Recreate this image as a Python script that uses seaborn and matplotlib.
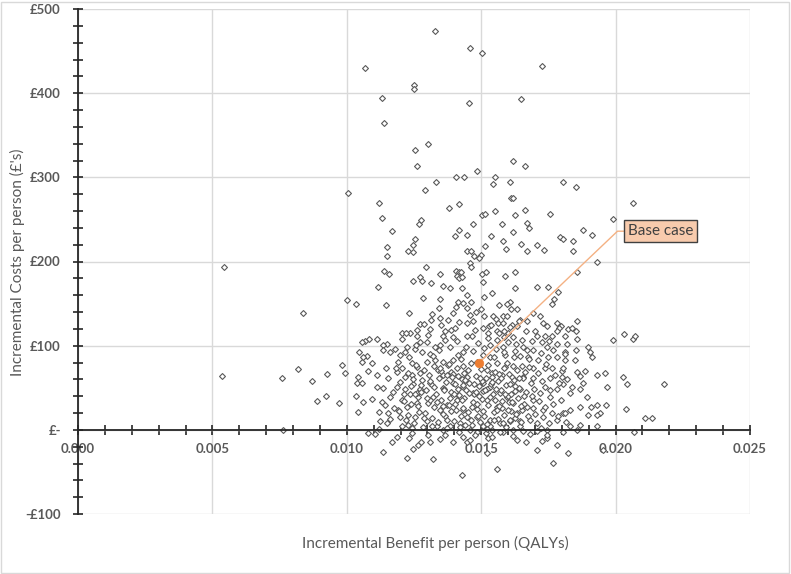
import numpy as np
import pandas as pd
import matplotlib
matplotlib.use("Agg")
import matplotlib.pyplot as plt
import seaborn as sns
from matplotlib.ticker import MultipleLocator
from matplotlib.patches import Rectangle

sns.set_style("white")
plt.rcParams['font.family'] = ['Lato', 'DejaVu Sans']

# ---------------- data: (incremental QALYs, incremental cost £) ----------------
sims_left = [(0.00543, 193), (0.00536, 64), (0.00758, 62), (0.0082, 72), (0.00837, 139),
             (0.0087, 58), (0.00889, 34), (0.00922, 40), (0.00925, 66), (0.00762, 0),
             (0.0097, 32)]

sims_top = [(0.01327, 474), (0.01457, 454), (0.01502, 448), (0.01067, 430), (0.01725, 432),
            (0.01249, 410), (0.01249, 405), (0.0113, 394), (0.01647, 393), (0.01453, 388),
            (0.01138, 364), (0.01301, 340), (0.01253, 332), (0.0126, 313), (0.01617, 319),
            (0.01662, 314), (0.01483, 308), (0.01405, 300), (0.01435, 300), (0.0155, 300),
            (0.01331, 295), (0.01543, 292), (0.01606, 294), (0.01803, 294), (0.01851, 288),
            (0.01004, 281), (0.0129, 285), (0.0161, 276), (0.0162, 276)]

sims_right = [(0.02063, 269), (0.01989, 251), (0.02063, 108), (0.02074, 112),
              (0.02108, 14), (0.02134, 14), (0.02067, -3), (0.0218, 55)]

sims_upper = [(0.01119, 270), (0.01379, 264), (0.01416, 268), (0.0113, 252), (0.01268, 245),
              (0.01275, 249), (0.01167, 236), (0.01253, 227), (0.01245, 220), (0.01149, 217),
              (0.01227, 213), (0.01245, 211), (0.01149, 206), (0.01401, 230), (0.01416, 238),
              (0.01446, 232), (0.01468, 245), (0.01502, 255), (0.01513, 257), (0.0155, 260),
              (0.01625, 255), (0.01662, 261), (0.01755, 257), (0.01576, 245), (0.01669, 246),
              (0.01677, 240), (0.01617, 235), (0.01535, 230), (0.0158, 224), (0.01647, 221),
              (0.01706, 220), (0.01591, 215), (0.01669, 212), (0.01732, 214), (0.01792, 229),
              (0.01803, 227), (0.0184, 224), (0.01877, 237), (0.01914, 232), (0.0184, 213),
              (0.01929, 199), (0.01513, 219), (0.01446, 213), (0.01461, 213), (0.01498, 208),
              (0.01472, 206), (0.01491, 204), (0.01457, 198), (0.01461, 194), (0.01294, 194),
              (0.01138, 189), (0.01156, 185), (0.01271, 181), (0.01346, 185), (0.01405, 189),
              (0.01416, 187), (0.01424, 187), (0.01409, 183), (0.01416, 180), (0.01428, 182),
              (0.01502, 185), (0.01517, 188), (0.01587, 183), (0.01625, 188), (0.01855, 187)]

sims_mid_left = [(0.0100, 154), (0.01033, 149), (0.01115, 170), (0.01145, 148), (0.01245, 177),
                 (0.01279, 177), (0.01312, 175), (0.01283, 157), (0.0123, 139), (0.01357, 171),
                 (0.01383, 169), (0.01428, 168), (0.01446, 160), (0.01461, 152), (0.01346, 155),
                 (0.01342, 145), (0.01405, 146), (0.01413, 152), (0.01394, 139), (0.01316, 138),
                 (0.01375, 131), (0.01346, 133), (0.01312, 131), (0.01271, 126), (0.0126, 119),
                 (0.01234, 115), (0.01204, 115), (0.01219, 115), (0.0126, 111), (0.01309, 120),
                 (0.01357, 112), (0.01387, 119), (0.01401, 121), (0.01394, 110), (0.01364, 107),
                 (0.01346, 101), (0.01327, 99), (0.01297, 104), (0.01271, 104), (0.01253, 96),
                 (0.01223, 99), (0.01216, 93), (0.01197, 89), (0.0119, 81), (0.0116, 93),
                 (0.01149, 102), (0.01134, 101), (0.01112, 108), (0.01082, 108), (0.01067, 105),
                 (0.01056, 104), (0.01045, 92), (0.01056, 81), (0.01074, 88), (0.01093, 80),
                 (0.01134, 95), (0.00981, 77), (0.00993, 68), (0.01041, 63), (0.01078, 70),
                 (0.01112, 65), (0.01145, 74), (0.01186, 69), (0.01204, 74), (0.01242, 80),
                 (0.0126, 75), (0.01297, 81), (0.01309, 90), (0.01327, 83), (0.01357, 81),
                 (0.01375, 77), (0.01394, 83), (0.01413, 89), (0.01431, 92), (0.01442, 99),
                 (0.01465, 111), (0.01476, 119), (0.01468, 129), (0.01446, 127), (0.01457, 137),
                 (0.01446, 145), (0.01431, 151), (0.0148, 140), (0.01431, 76), (0.0145, 71),
                 (0.01483, 81), (0.01338, 71), (0.01357, 65), (0.01387, 69), (0.01413, 64),
                 (0.01271, 68), (0.01242, 65), (0.01216, 63), (0.0106, 86)]

sims_mid_right = [(0.01506, 176), (0.01625, 169), (0.01706, 170), (0.01747, 170), (0.01539, 163),
                  (0.01509, 158), (0.01606, 152), (0.01595, 149), (0.01565, 148), (0.0161, 143),
                  (0.01632, 144), (0.01762, 149), (0.0177, 156), (0.01784, 164), (0.01498, 143),
                  (0.01509, 135), (0.01543, 135), (0.01554, 132), (0.0158, 135), (0.01595, 135),
                  (0.01643, 130), (0.01691, 139), (0.01717, 135), (0.01561, 127), (0.0158, 127),
                  (0.01613, 125), (0.01639, 129), (0.01669, 129), (0.01729, 127), (0.01781, 127),
                  (0.01796, 123), (0.01855, 129), (0.01528, 123), (0.01506, 121), (0.01632, 123),
                  (0.01743, 123), (0.01788, 121), (0.01822, 120), (0.01665, 117), (0.01706, 111),
                  (0.01736, 111), (0.01762, 111), (0.0181, 111), (0.01851, 117), (0.01558, 118),
                  (0.01524, 115), (0.01599, 115), (0.01558, 107), (0.01584, 110), (0.01617, 110),
                  (0.01599, 104), (0.01628, 102), (0.01688, 105), (0.01725, 104), (0.01781, 102),
                  (0.01818, 102), (0.01855, 108), (0.01989, 107), (0.0203, 114), (0.01532, 101),
                  (0.01554, 96), (0.0158, 99), (0.01654, 99), (0.01669, 95), (0.01691, 95),
                  (0.01743, 98), (0.01766, 95), (0.0181, 93), (0.01851, 95), (0.01896, 99),
                  (0.01903, 92), (0.01914, 86), (0.01506, 89), (0.01532, 87), (0.01587, 89),
                  (0.01621, 86), (0.01643, 88), (0.01673, 87), (0.0171, 83), (0.01747, 86),
                  (0.01781, 87), (0.0181, 83), (0.01848, 83), (0.01558, 80), (0.01587, 75),
                  (0.01617, 76), (0.0165, 76), (0.01691, 74), (0.01736, 73), (0.01762, 74),
                  (0.01799, 70), (0.01855, 69), (0.01929, 65), (0.01959, 68), (0.02026, 63),
                  (0.0152, 71), (0.01539, 68), (0.01576, 65), (0.01613, 63), (0.01654, 63),
                  (0.01691, 62), (0.01755, 62), (0.01799, 63)]

sims_low_left = [(0.01037, 56), (0.01056, 56), (0.01033, 40), (0.0106, 33), (0.01041, 21),
                 (0.01093, 37), (0.01112, 51), (0.01134, 50), (0.01078, -4), (0.01104, -5),
                 (0.01134, -26), (0.01167, -15), (0.01223, -33), (0.01245, -23), (0.01264, -18),
                 (0.01275, -15), (0.0132, -35), (0.0123, -10), (0.01309, -14), (0.01364, -6),
                 (0.01394, -15), (0.01431, -8), (0.01446, -14), (0.01428, -54), (0.01119, 1),
                 (0.01123, 10), (0.01149, 8), (0.01197, 15), (0.01242, 2), (0.01253, 15),
                 (0.01297, 10), (0.01335, 4), (0.01357, 0), (0.01383, 4), (0.0142, 8),
                 (0.01457, 0), (0.01483, -2), (0.01119, 21), (0.01152, 20), (0.0119, 24),
                 (0.01223, 27), (0.01204, 36), (0.0116, 39), (0.0113, 33), (0.01186, 51),
                 (0.01234, 42), (0.01271, 48), (0.0126, 32), (0.01301, 32), (0.0132, 39),
                 (0.01346, 24), (0.01372, 30), (0.01409, 36), (0.01431, 24), (0.01465, 27),
                 (0.01483, 15), (0.01468, 44), (0.01431, 51), (0.01394, 56), (0.01357, 50),
                 (0.01309, 56), (0.01245, 54), (0.01216, 48)]

sims_low_right = [(0.01506, 56), (0.01532, 51), (0.01569, 44), (0.0152, 36), (0.01558, 27),
                  (0.01595, 39), (0.01617, 32), (0.01643, 48), (0.01632, 20), (0.01669, 27),
                  (0.01691, 36), (0.01717, 44), (0.01736, 51), (0.01755, 39), (0.01781, 48),
                  (0.01803, 54), (0.01829, 44), (0.01866, 48), (0.01892, 39), (0.01877, 56),
                  (0.01929, 30), (0.01967, 51), (0.01941, 20), (0.01866, 6), (0.01829, 4),
                  (0.01803, 20), (0.01781, 12), (0.01729, 15), (0.01706, 8), (0.0168, 12),
                  (0.01643, 10), (0.01606, 10), (0.01569, 8), (0.01532, 12), (0.01506, 4),
                  (0.01539, 0), (0.0158, -2), (0.01617, 0), (0.01654, -1), (0.01706, -1),
                  (0.01743, 0), (0.01803, -2), (0.01855, 0), (0.01929, 4), (0.01524, -10),
                  (0.01665, -14), (0.01706, -24), (0.01725, -13), (0.01743, -10), (0.01781, -18),
                  (0.01822, -27), (0.01766, -39), (0.01558, -46), (0.01952, -24), (0.0152, -27),
                  (0.02041, 54), (0.02037, 25), (0.01729, 24), (0.01762, 20), (0.0181, 20),
                  (0.01866, 27), (0.01896, 18), (0.01929, 18), (0.01963, 29), (0.01907, 27)]

sims_core_a = [(0.01205, 5), (0.01228, 18), (0.01251, 8), (0.01266, 28), (0.01283, 3),
               (0.01292, 20), (0.01318, 14), (0.01326, 27), (0.01339, 9), (0.01352, 36),
               (0.01366, 17), (0.01371, 2), (0.01389, 22), (0.01398, 11), (0.01404, 31),
               (0.01417, -3), (0.01425, 17), (0.01437, 38), (0.01441, 6), (0.01452, 21),
               (0.01463, 12), (0.01471, 33), (0.01478, -6), (0.01486, 25), (0.01494, 9),
               (0.01503, 37), (0.01511, 16), (0.01518, -4), (0.01527, 29), (0.01534, 5),
               (0.01547, 21), (0.01552, 35), (0.01563, 13), (0.01571, -2), (0.01578, 26),
               (0.01586, 18), (0.01594, 3), (0.01602, 33), (0.01611, 22), (0.01619, -7),
               (0.01626, 14), (0.01637, 38), (0.01645, 4), (0.01652, 23), (0.01661, 31),
               (0.01674, 16), (0.01683, -5), (0.01694, 26), (0.01702, 19), (0.01716, 34),
               (0.01724, 2), (0.01739, 27), (0.01752, 8), (0.01768, 31), (0.01785, 16),
               (0.01797, 36), (0.01815, 9), (0.01832, 23), (0.01176, 26), (0.01161, 13),
               (0.01142, 30), (0.01187, -8), (0.01212, 34), (0.01244, -4), (0.01303, -6),
               (0.01345, -11), (0.01412, 41), (0.0146, -12), (0.01493, 40), (0.01542, -9),
               (0.01598, 40), (0.01633, -12), (0.01689, 40), (0.01744, -6), (0.01265, 39),
               (0.01381, 29), (0.01432, 26), (0.01521, 7), (0.01558, 24), (0.01607, 12),
               (0.01648, 28), (0.01576, 34), (0.01489, 17), (0.01357, 19), (0.01311, 35),
               (0.01229, 6), (0.01195, 22)]

sims_core_b = [(0.01152, 62), (0.01171, 45), (0.01183, 74), (0.01198, 57), (0.01213, 43),
               (0.01229, 68), (0.01238, 52), (0.01256, 77), (0.01263, 44), (0.01279, 59),
               (0.01288, 71), (0.01296, 47), (0.01305, 65), (0.01316, 53), (0.01324, 76),
               (0.01333, 42), (0.01342, 61), (0.01351, 70), (0.01362, 49), (0.01368, 57),
               (0.01379, 78), (0.01386, 45), (0.01396, 66), (0.01403, 54), (0.01411, 73),
               (0.01419, 41), (0.01427, 60), (0.01436, 68), (0.01444, 47), (0.01455, 56),
               (0.01462, 79), (0.01473, 43), (0.01481, 64), (0.01492, 52), (0.01499, 72),
               (0.01508, 46), (0.01516, 61), (0.01527, 77), (0.01536, 55), (0.01544, 42),
               (0.01553, 69), (0.01561, 58), (0.01572, 47), (0.01583, 74), (0.01591, 53),
               (0.01603, 66), (0.01612, 43), (0.01621, 59), (0.01633, 71), (0.01642, 50),
               (0.01656, 62), (0.01668, 45), (0.01679, 75), (0.01687, 56), (0.01698, 48),
               (0.01712, 67), (0.01727, 58), (0.01741, 78), (0.01756, 47), (0.01774, 65),
               (0.01788, 56), (0.01806, 73), (0.01821, 60), (0.01839, 51), (0.01868, 64),
               (0.01887, 70), (0.01275, 45), (0.01347, 74), (0.01398, 42), (0.01449, 63),
               (0.01521, 49), (0.01568, 66), (0.01626, 52), (0.01311, 58), (0.01246, 60),
               (0.01432, 53), (0.01479, 45), (0.01542, 63), (0.01597, 79), (0.01371, 65),
               (0.01664, 69), (0.01503, 58)]

sims_core_c = [(0.01178, 96), (0.01206, 108), (0.01232, 86), (0.01258, 101), (0.01281, 92),
               (0.01303, 113), (0.01322, 88), (0.01344, 95), (0.01366, 117), (0.01383, 98),
               (0.01409, 106), (0.01426, 84), (0.01449, 112), (0.01468, 94), (0.01489, 103),
               (0.01511, 97), (0.01527, 109), (0.01549, 86), (0.01568, 115), (0.01586, 92),
               (0.01608, 122), (0.01627, 94), (0.01652, 107), (0.01676, 84), (0.01702, 118),
               (0.01722, 91), (0.01753, 106), (0.01782, 117), (0.01811, 90), (0.01837, 121),
               (0.01288, 126), (0.01352, 124), (0.01417, 128), (0.01536, 124), (0.01584, 117)]

sims_core_d = [(0.01357, 28), (0.01363, 47), (0.01374, 12), (0.01385, 38), (0.01392, 63),
               (0.01407, 24), (0.01414, 49), (0.0142, 3), (0.01429, 35), (0.01439, 59),
               (0.01448, 15), (0.01456, 44), (0.01465, 6), (0.01474, 54), (0.01483, 31),
               (0.01497, 62), (0.01505, 22), (0.01513, 47), (0.0152, 1), (0.01531, 39),
               (0.01539, 57), (0.01548, 12), (0.01556, 48), (0.01565, 28), (0.01573, 61),
               (0.01581, 8), (0.01589, 42), (0.01599, 24), (0.01608, 55), (0.01616, 33),
               (0.01624, 46), (0.01631, 19), (0.01641, 61), (0.01649, 9), (0.01658, 40),
               (0.01335, 33), (0.01326, 51), (0.01318, 4), (0.01299, 38), (0.01287, 14),
               (0.01277, 53), (0.01268, 21), (0.01254, 43), (0.0124, 31), (0.01221, 12)]

base_case = (0.0149, 79)
base_label = "Base case"
callout_elbow = (0.02007, 236)
callout_box = (0.0203, 236)

x_ticks = [0.000, 0.005, 0.010, 0.015, 0.020, 0.025]
x_tick_labels = ["0.000", "0.005", "0.010", "0.015", "0.020", "0.025"]
y_ticks = [-100, 0, 100, 200, 300, 400, 500]
y_tick_labels = ["-£100", "£-", "£100", "£200", "£300", "£400", "£500"]

x_title = "Incremental Benefit per person (QALYs)"
y_title = "Incremental Costs per person (£'s)"

# ---------------- build table ----------------
groups = [sims_left, sims_top, sims_right, sims_upper, sims_mid_left, sims_mid_right,
          sims_low_left, sims_low_right, sims_core_a, sims_core_b, sims_core_c, sims_core_d]
df = pd.concat([pd.DataFrame(g, columns=["qaly", "cost"]) for g in groups], ignore_index=True)
df_base = pd.DataFrame([base_case], columns=["qaly", "cost"])

# ---------------- figure ----------------
W, H = 791, 574
fig = plt.figure(figsize=(W / 100, H / 100), dpi=100)
ax = fig.add_axes([78 / W, (H - 514) / H, (750 - 78) / W, (514 - 9) / H])

text_col = "#595959"
axis_col = "#262626"

sns.scatterplot(data=df, x="qaly", y="cost", ax=ax, marker="D", s=9,
                facecolor="white", edgecolor="#5a5a5a", linewidth=0.8, zorder=3, legend=False)
sns.scatterplot(data=df_base, x="qaly", y="cost", ax=ax, marker="o", s=38,
                color="#ED7D31", edgecolor="#ED7D31", linewidth=0.5, zorder=5, legend=False)

ax.set_xlim(0, 0.025)
ax.set_ylim(-100, 500)

ax.set_xticks(x_ticks)
ax.set_xticklabels(x_tick_labels, ha="left")
ax.set_yticks(y_ticks)
ax.set_yticklabels(y_tick_labels)
ax.xaxis.set_minor_locator(MultipleLocator(0.001))
ax.yaxis.set_minor_locator(MultipleLocator(20))

ax.grid(True, which="major", color="#d9d9d9", linewidth=1.0)
ax.set_axisbelow(True)

for s in ["top", "right"]:
    ax.spines[s].set_visible(False)
ax.spines["bottom"].set_position(("data", 0))
for s in ["left", "bottom"]:
    ax.spines[s].set_color(axis_col)
    ax.spines[s].set_linewidth(1.3)
    ax.spines[s].set_zorder(4)

ax.tick_params(which="both", bottom=True, left=True, top=False, right=False,
               direction="inout", length=6.5, width=1.2, color=axis_col)
ax.tick_params(axis="x", which="major", pad=6, labelsize=9.5, labelcolor=text_col)
ax.tick_params(axis="y", which="major", pad=9, labelsize=9.5, labelcolor=text_col)
for lab in ax.get_xticklabels() + ax.get_yticklabels():
    lab.set_fontweight("bold")

ax.set_xlabel("")
ax.set_ylabel("")
fig.text(435 / W, 1 - 543 / H, x_title, ha="center", va="center", fontsize=11, color=text_col)
fig.text(17 / W, 1 - 262 / H, y_title, ha="center", va="center", rotation=90,
         fontsize=11, color=text_col)

# callout
ax.plot([base_case[0], callout_elbow[0], callout_box[0]],
        [base_case[1], callout_elbow[1], callout_box[1]],
        color="#F4B183", linewidth=1.0, zorder=4)
ax.text(callout_box[0] + 0.00015, callout_box[1], base_label, ha="left", va="center",
        fontsize=11, color="#404040", zorder=6,
        bbox=dict(boxstyle="square,pad=0.25", fc="#F8CBAD", ec="#404040", lw=1.0))

fig.patches.append(Rectangle((1 / W, 1 / H), 1 - 3 / W, 1 - 3 / H, transform=fig.transFigure,
                             fill=False, edgecolor="#d9d9d9", linewidth=1.0))

fig.savefig("out.png", dpi=100)
